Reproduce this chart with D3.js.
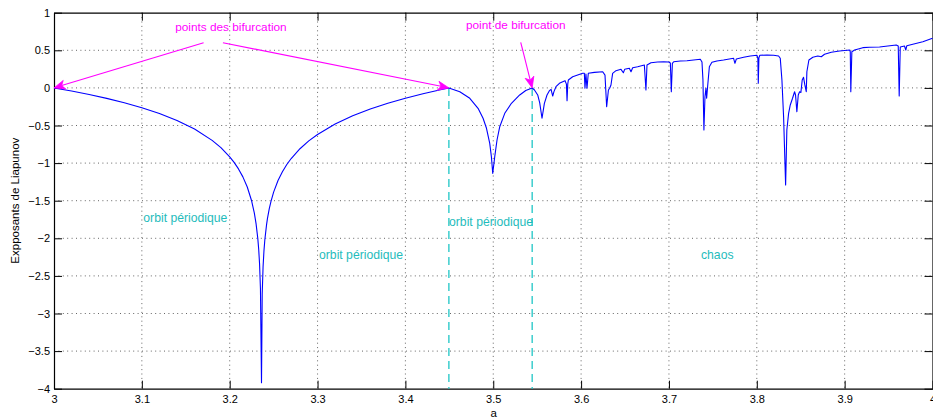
<!DOCTYPE html>
<html>
<head>
<meta charset="utf-8">
<script src="https://cdn.jsdelivr.net/npm/d3@7"></script>
<style>
  html, body { margin: 0; padding: 0; background: #fff; }
  svg { display: block; font-family: "Liberation Sans", Arial, Helvetica, sans-serif; }
</style>
</head>
<body>
<svg id="chart" width="933" height="419"></svg>
<script>
// Lyapunov exponent of the logistic map x -> a x (1 - x), a in [3, 4]

// period-2 branch (3 <= a <= 3.4495)
const period2 = [
  [3.000, 0], [3.010, -0.0205], [3.020, -0.0419], [3.040, -0.0881], [3.060, -0.1396],
  [3.080, -0.1976], [3.100, -0.2636], [3.120, -0.3410], [3.140, -0.4333], [3.160, -0.5477],
  [3.180, -0.6980], [3.190, -0.7951], [3.200, -0.9163], [3.205, -0.990], [3.210, -1.0775],
  [3.215, -1.183], [3.220, -1.3183], [3.225, -1.5042], [3.228, -1.662], [3.230, -1.8041],
  [3.232, -2.004], [3.233, -2.1448], [3.234, -2.342], [3.235, -2.6722], [3.2362, -3.92],
  [3.237, -2.740], [3.238, -2.375], [3.239, -2.1668], [3.240, -2.020], [3.242, -1.8141],
  [3.243, -1.736], [3.245, -1.6092], [3.247, -1.508], [3.250, -1.3863], [3.255, -1.232],
  [3.260, -1.1147], [3.265, -1.019], [3.270, -0.9390], [3.280, -0.8088], [3.290, -0.7051],
  [3.300, -0.6190], [3.320, -0.4807], [3.340, -0.3716], [3.360, -0.2814], [3.380, -0.2044],
  [3.400, -0.1372], [3.420, -0.0775], [3.440, -0.0238], [3.4495, 0]
];

// period-4 branch (3.4495 <= a <= 3.5443)
const period4 = [
  [3.4495, 0], [3.4619, -0.051], [3.4733, -0.138], [3.4827, -0.271], [3.4884, -0.404],
  [3.4923, -0.537], [3.4960, -0.737], [3.4979, -0.915], [3.4994, -1.136], [3.5017, -0.915],
  [3.5043, -0.693], [3.5074, -0.516], [3.5131, -0.338], [3.5207, -0.205], [3.5301, -0.094],
  [3.5370, -0.035], [3.5443, 0]
];

// higher periods, then chaos with periodic windows (3.5443 <= a <= 4)
const chaos = [
  [3.5443, 0], [3.5469, -0.028], [3.5506, -0.094], [3.5529, -0.200], [3.5555, -0.404],
  [3.5582, -0.205], [3.5612, -0.094], [3.5639, -0.037], [3.5658, -0.019], [3.5677, -0.108],
  [3.5691, -0.050], [3.5714, 0.016], [3.5753, 0.061], [3.5791, 0.082], [3.5817, 0.096],
  [3.5833, 0.050], [3.5840, -0.170], [3.5848, 0.050], [3.5855, 0.105], [3.5904, 0.149],
  [3.5961, 0.172], [3.6018, 0.194], [3.6037, 0.194], [3.6044, -0.005], [3.6055, 0.185],
  [3.6067, -0.005], [3.6082, 0.194], [3.6151, 0.207], [3.6246, 0.215], [3.6272, 0.170],
  [3.6291, -0.250], [3.6311, -0.028], [3.6325, -0.005], [3.6340, 0.039], [3.6359, 0.194],
  [3.6397, 0.229], [3.6454, 0.247], [3.6481, 0.202], [3.6496, 0.247], [3.6549, 0.261],
  [3.6568, 0.215], [3.6587, 0.269], [3.6644, 0.282], [3.6720, 0.305], [3.6738, -0.028],
  [3.6750, 0.305], [3.6795, 0.335], [3.6871, 0.344], [3.6940, 0.348], [3.6997, 0.344],
  [3.7016, 0.331], [3.7027, -0.051], [3.7039, 0.327], [3.7054, 0.348], [3.7130, 0.358],
  [3.7205, 0.362], [3.7281, 0.371], [3.7357, 0.380], [3.7376, 0.344], [3.7387, 0.105],
  [3.7398, -0.560], [3.7410, -0.117], [3.7421, -0.005], [3.7429, -0.138], [3.7440, 0.016],
  [3.7460, 0.282], [3.7489, 0.340], [3.7546, 0.358], [3.7622, 0.371], [3.7736, 0.394],
  [3.7751, 0.327], [3.7767, 0.384], [3.7850, 0.407], [3.7926, 0.424], [3.8001, 0.434],
  [3.8012, 0.394], [3.8017, 0.061], [3.8024, 0.402], [3.8035, 0.434], [3.8115, 0.437],
  [3.8191, 0.434], [3.8248, 0.424], [3.8267, 0.394], [3.8286, 0.105], [3.8305, -0.383],
  [3.8328, -1.291], [3.8342, -0.560], [3.8362, -0.338], [3.8381, -0.227], [3.8407, -0.138],
  [3.8430, -0.051], [3.8441, -0.094], [3.8456, -0.316], [3.8472, -0.094], [3.8487, -0.051],
  [3.8502, -0.060], [3.8517, 0.105], [3.8532, 0.141], [3.8547, 0.039], [3.8563, -0.051],
  [3.8570, 0.215], [3.8593, 0.371], [3.8638, 0.407], [3.8695, 0.424], [3.8734, 0.415],
  [3.8771, 0.447], [3.8848, 0.473], [3.8942, 0.491], [3.9056, 0.504], [3.9064, 0.481],
  [3.9070, -0.051], [3.9082, 0.481], [3.9113, 0.504], [3.9207, 0.535], [3.9283, 0.540],
  [3.9397, 0.544], [3.9492, 0.557], [3.9587, 0.570], [3.9610, 0.557], [3.9621, -0.108],
  [3.9633, 0.544], [3.9681, 0.557], [3.9696, 0.504], [3.9708, 0.561], [3.9776, 0.580],
  [3.9890, 0.614], [4.000, 0.660]
];

// tick values
const xTicks = [3, 3.1, 3.2, 3.3, 3.4, 3.5, 3.6, 3.7, 3.8, 3.9, 4];
const yTicks = [1, 0.5, 0, -0.5, -1, -1.5, -2, -2.5, -3, -3.5, -4];

// bifurcation values of a marked on the chart
const bifurcations = [3.4495, 3.5443];

// annotations
const arrowNotes = [
  { from: [3.1703, 0.601], to: [3.0, 0] },
  { from: [3.1923, 0.601], to: [3.4495, 0] },
  { from: [3.5313, 0.606], to: [3.5443, 0] }
];
const magentaLabels = [
  { text: "points des bifurcation", a: 3.2014, v: 0.757 },
  { text: "point de bifurcation", a: 3.5256, v: 0.780 }
];
const cyanLabels = [
  { text: "orbit périodique", a: 3.1495, v: -1.78 },
  { text: "orbit périodique", a: 3.3495, v: -2.27 },
  { text: "orbit périodique", a: 3.4975, v: -1.83 },
  { text: "chaos", a: 3.7550, v: -2.27 }
];

const svg = d3.select("#chart");
const padL = 54, padT = 12.7, padR = 932.5, padB = 388.7;

const x = d3.scaleLinear().domain([3, 4]).range([padL, padR]);
const y = d3.scaleLinear().domain([-4, 1]).range([padB, padT]);
const fmt = d3.format("~g");

// dotted grid
const grid = svg.append("g").attr("stroke", "#555").attr("stroke-width", 0.9)
  .attr("stroke-dasharray", "1,3.4");
grid.selectAll(".gx").data(xTicks.slice(1, -1)).join("line")
  .attr("x1", d => x(d)).attr("x2", d => x(d)).attr("y1", padT).attr("y2", padB);
grid.selectAll(".gy").data(yTicks.slice(1, -1)).join("line")
  .attr("x1", padL).attr("x2", padR).attr("y1", d => y(d)).attr("y2", d => y(d));

// axes with inward ticks
const tick = 8;
function styleAxis(g) {
  g.selectAll(".domain").attr("stroke", "#000").attr("stroke-width", 1.2);
  g.selectAll(".tick line").attr("stroke", "#000").attr("stroke-width", 1);
  g.selectAll(".tick text").attr("fill", "#000").attr("font-size", 11)
    .attr("font-family", "'Liberation Sans', Arial, sans-serif");
}
svg.append("g").attr("transform", `translate(0,${padB})`)
  .call(d3.axisBottom(x).tickValues(xTicks).tickFormat(fmt).tickSizeInner(-tick).tickSizeOuter(0).tickPadding(6))
  .call(styleAxis)
  .call(g => g.selectAll(".tick text").attr("dy", "0.71em").attr("y", 7));
svg.append("g").attr("transform", `translate(0,${padT})`)
  .call(d3.axisTop(x).tickValues(xTicks).tickFormat("").tickSizeInner(-tick).tickSizeOuter(0))
  .call(styleAxis);
svg.append("g").attr("transform", `translate(${padL},0)`)
  .call(d3.axisLeft(y).tickValues(yTicks).tickFormat(fmt).tickSizeInner(-tick).tickSizeOuter(0).tickPadding(4))
  .call(styleAxis)
  .call(g => g.selectAll(".tick text").attr("x", -4));
svg.append("g").attr("transform", `translate(${padR},0)`)
  .call(d3.axisRight(y).tickValues(yTicks).tickFormat("").tickSizeInner(-tick).tickSizeOuter(0))
  .call(styleAxis);

// dashed markers at the bifurcation values
svg.append("g").selectAll("line").data(bifurcations).join("line")
  .attr("x1", d => x(d)).attr("x2", d => x(d))
  .attr("y1", y(0)).attr("y2", padB)
  .attr("stroke", "#1fc6c6").attr("stroke-width", 1.3)
  .attr("stroke-dasharray", "8,5");

// Lyapunov exponent curve
const curve = period2.concat(period4.slice(1), chaos.slice(1));
const line = d3.line().x(d => x(d[0])).y(d => y(d[1]));
svg.append("path").datum(curve)
  .attr("d", line).attr("fill", "none")
  .attr("stroke", "#0000ff").attr("stroke-width", 1.1)
  .attr("stroke-linejoin", "round");

// annotation arrows
const magenta = "#ff00ff";
const arrows = svg.append("g");
arrowNotes.forEach(n => {
  const x0 = x(n.from[0]), y0 = y(n.from[1]);
  const x1 = x(n.to[0]), y1 = y(n.to[1]);
  const ang = Math.atan2(y1 - y0, x1 - x0);
  const L = 11, W = 4.5, N = 8;
  const ux = Math.cos(ang), uy = Math.sin(ang);
  const px = -uy, py = ux;
  const bx = x1 - ux * L, by = y1 - uy * L;
  const nx = x1 - ux * N, ny = y1 - uy * N;
  arrows.append("line")
    .attr("x1", x0).attr("y1", y0).attr("x2", nx).attr("y2", ny)
    .attr("stroke", magenta).attr("stroke-width", 1.1);
  arrows.append("path")
    .attr("d", `M${x1},${y1}L${bx + px * W},${by + py * W}L${nx},${ny}L${bx - px * W},${by - py * W}Z`)
    .attr("fill", magenta).attr("stroke", magenta).attr("stroke-width", 0.8);
});

svg.append("g").selectAll("text").data(magentaLabels).join("text")
  .attr("x", d => x(d.a)).attr("y", d => y(d.v))
  .attr("text-anchor", "middle").attr("font-size", 11.8).attr("fill", magenta)
  .text(d => d.text);

svg.append("g").selectAll("text").data(cyanLabels).join("text")
  .attr("x", d => x(d.a)).attr("y", d => y(d.v))
  .attr("text-anchor", "middle").attr("font-size", 12.2).attr("fill", "#1fbcbc")
  .text(d => d.text);

// axis titles
svg.append("text").attr("x", (padL + padR) / 2 + 0.5).attr("y", 417)
  .attr("text-anchor", "middle").attr("font-size", 11.5).attr("fill", "#000").text("a");
svg.append("text").attr("transform", `translate(19,${(padT + padB) / 2}) rotate(-90)`)
  .attr("text-anchor", "middle").attr("font-size", 11.5).attr("fill", "#000")
  .text("Expposants de Liapunov");
</script>
</body>
</html>
